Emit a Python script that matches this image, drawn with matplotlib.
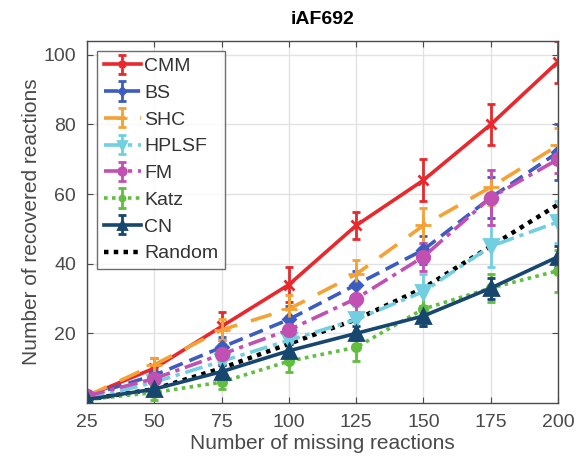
import matplotlib
matplotlib.use("Agg")
import matplotlib.pyplot as plt
import numpy as np

plt.rcParams['font.family'] = ['Liberation Sans', 'DejaVu Sans']

missing = [25, 50, 75, 100, 125, 150, 175, 200]

cmm = [2, 10, 22, 34, 51, 64, 80, 98]
cmm_err = [1, 3, 4, 5, 4, 6, 6, 6]
bs = [2, 8, 16, 24, 34, 44, 59, 72]
bs_err = [1, 2, 3, 4, 4, 4, 6, 8]
shc = [2, 11, 21, 27, 37, 51, 62, 74]
shc_err = [1, 2, 3, 4, 4, 5, 5, 5]
hplsf = [1, 6, 12, 18, 24, 32, 45, 52]
hplsf_err = [1, 2, 3, 4, 4, 5, 6, 6]
fm = [2, 7, 14, 21, 30, 42, 59, 70]
fm_err = [1, 2, 3, 4, 4, 4, 8, 4]
katz = [1, 3, 6, 12, 16, 27, 33, 38]
katz_err = [1, 2, 2, 3, 4, 5, 4, 6]
cn = [1, 4, 9, 15, 20, 25, 33, 42]
cn_err = [1, 1, 2, 2, 2, 3, 3, 3]
rand = [1, 4, 10, 17, 24, 33, 45, 57]

x_ticks = [25, 50, 75, 100, 125, 150, 175, 200]
y_ticks = [20, 40, 60, 80, 100]

fig = plt.figure(figsize=(5.77, 4.63), dpi=100)
ax = fig.add_axes([0.151, 0.1296, 0.816, 0.782])

series = [
    ("CMM", cmm, cmm_err, "#e8282c", "-", "x", 7),
    ("BS", bs, bs_err, "#3d5cc0", (0, (4, 2)), "D", 6),
    ("SHC", shc, shc_err, "#f4a236", (0, (6, 4)), "+", 11),
    ("HPLSF", hplsf, hplsf_err, "#72cfe0", (0, (5, 1.6, 1.2, 1.6)), "v", 10),
    ("FM", fm, fm_err, "#c24fb2", (0, (5, 1.6, 1.2, 1.6)), "o", 9),
    ("Katz", katz, katz_err, "#62be3e", (0, (1, 1.2)), "o", 6),
    ("CN", cn, cn_err, "#17466e", "-", "^", 10),
]

for name, y, e, c, ls, mk, ms in series:
    ax.errorbar(missing, y, yerr=e, color=c, linestyle=ls, marker=mk,
                markersize=ms, linewidth=2.6, elinewidth=2, capsize=3,
                capthick=2, markeredgewidth=2, label=name)

ax.plot(missing, rand, color="black", linestyle=(0, (1, 1.2)), linewidth=3.2,
        label="Random")

ax.set_xlim(25, 200)
ax.set_ylim(0, 104)
ax.set_xticks(x_ticks)
ax.set_yticks(y_ticks)
ax.grid(True, color="#e2e2e2", linewidth=1)
ax.set_axisbelow(True)
ax.tick_params(direction="in", top=True, right=True, labelsize=14,
               colors="#4a4a4a", length=4, pad=8)
for s in ax.spines.values():
    s.set_color("#4a4a4a")
    s.set_linewidth(1)

ax.set_xlabel("Number of missing reactions", fontsize=15, color="#4a4a4a",
              labelpad=2)
ax.set_ylabel("Number of recovered reactions", fontsize=15, color="#4a4a4a",
              labelpad=2)
ax.set_title("iAF692", fontsize=14, fontweight="bold", pad=12)

handles, labels = ax.get_legend_handles_labels()
order = [labels.index(n) for n in ["CMM", "BS", "SHC", "HPLSF", "FM", "Katz", "CN", "Random"]]
leg = ax.legend([handles[i] for i in order], [labels[i] for i in order],
                loc="upper left", fontsize=14, frameon=True, fancybox=False,
                edgecolor="#4a4a4a", borderpad=0.35, labelspacing=0.47,
                handlelength=1.9, handletextpad=0.2, borderaxespad=0.5,
                markerscale=0.6)
leg.get_frame().set_linewidth(1)
for t in leg.get_texts():
    t.set_color("#333333")

fig.savefig("out.png", dpi=100)
